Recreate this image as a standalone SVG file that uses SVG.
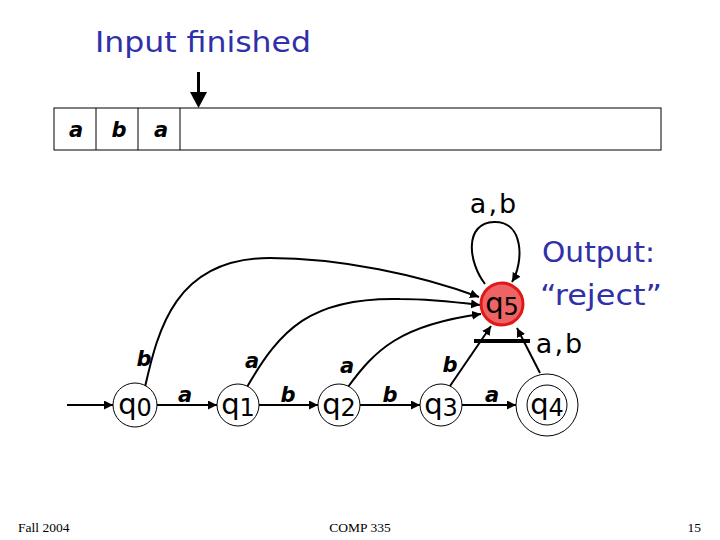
<svg xmlns="http://www.w3.org/2000/svg" width="720" height="540" viewBox="0 0 720 540">
<style>
.title{font-family:"DejaVu Sans",sans-serif;font-size:28px;fill:#3030a8}
.lbl{font-family:"DejaVu Sans",sans-serif;font-size:21px;font-style:italic;font-weight:600;fill:#000}
.tl{font-family:"DejaVu Sans",sans-serif;font-size:27px;fill:#000;letter-spacing:2px}
.q{font-family:"DejaVu Sans",sans-serif;font-size:29px;fill:#000}
.foot{font-family:"Liberation Serif",serif;font-size:13.5px;fill:#000}
.st{fill:#fff;stroke:#000;stroke-width:1}
.e{fill:none;stroke:#000;stroke-width:2}
</style>
<defs>
<marker id="ah" viewBox="0 0 10 10" refX="10" refY="5" markerWidth="9" markerHeight="9" markerUnits="userSpaceOnUse" orient="auto">
<path d="M0,0 L10,5 L0,10 z" fill="#000"/>
</marker>
</defs>
<rect width="720" height="540" fill="#fff"/>
<text class="title" x="95" y="52" textLength="216" lengthAdjust="spacingAndGlyphs">Input finished</text>
<g id="tape">
<rect x="54" y="108" width="607" height="42" fill="#fff" stroke="#000" stroke-width="1"/>
<line x1="96" y1="108" x2="96" y2="150" stroke="#000"/>
<line x1="138" y1="108" x2="138" y2="150" stroke="#000"/>
<line x1="180" y1="108" x2="180" y2="150" stroke="#000"/>
<text class="lbl" x="76" y="137" text-anchor="middle">a</text>
<text class="lbl" x="119" y="137" text-anchor="middle">b</text>
<text class="lbl" x="161" y="137" text-anchor="middle">a</text>
</g>
<g id="head">
<line x1="198.5" y1="72" x2="198.5" y2="94" stroke="#000" stroke-width="3"/>
<path d="M190,92 L207,92 L198.5,108 z" fill="#000"/>
</g>
<g id="connectors">
<line class="e" x1="67" y1="405" x2="113" y2="405" marker-end="url(#ah)"/>
<line class="e" x1="157" y1="405" x2="217" y2="405" marker-end="url(#ah)"/>
<line class="e" x1="259" y1="405" x2="318" y2="405" marker-end="url(#ah)"/>
<line class="e" x1="360" y1="405" x2="420" y2="405" marker-end="url(#ah)"/>
<line class="e" x1="462" y1="405" x2="516" y2="405" marker-end="url(#ah)"/>
<path class="e" d="M145,387 C158,330 175,258 270,258 C340,258 420,275 479,297" marker-end="url(#ah)"/>
<path class="e" d="M247,387 C280,330 310,297 400,299 C430,299 455,302 480,305" marker-end="url(#ah)"/>
<path class="e" d="M348,387 C375,350 400,325 481,314" marker-end="url(#ah)"/>
<line class="e" x1="450" y1="386" x2="491" y2="326" marker-end="url(#ah)"/>
<line class="e" x1="540" y1="373" x2="517" y2="328" marker-end="url(#ah)"/>
<path class="e" d="M485,284 C468,262 464,223 494,222 C524,221 524,262 512,282" marker-end="url(#ah)"/>
<line x1="474" y1="341" x2="530" y2="341" stroke="#000" stroke-width="4"/>
</g>
<g id="labels">
<text class="lbl" x="185" y="402" text-anchor="middle">a</text>
<text class="lbl" x="288" y="402" text-anchor="middle">b</text>
<text class="lbl" x="390" y="402" text-anchor="middle">b</text>
<text class="lbl" x="492" y="402" text-anchor="middle">a</text>
<text class="lbl" x="144" y="366" text-anchor="middle">b</text>
<text class="lbl" x="252" y="368" text-anchor="middle">a</text>
<text class="lbl" x="347" y="373" text-anchor="middle">a</text>
<text class="lbl" x="450" y="372" text-anchor="middle">b</text>
<text class="tl" x="494" y="213" text-anchor="middle">a,b</text>
<text class="tl" x="560" y="353" text-anchor="middle">a,b</text>
<text class="title" x="542" y="262" textLength="113" lengthAdjust="spacingAndGlyphs">Output:</text>
<text class="title" x="540" y="305" textLength="122" lengthAdjust="spacingAndGlyphs">“reject”</text>
</g>
<g id="q0"><circle class="st" cx="135" cy="405" r="22"/><text class="q" x="135" y="414" text-anchor="middle">q<tspan font-size="24" dy="2">0</tspan></text></g>
<g id="q1"><circle class="st" cx="238" cy="405" r="21"/><text class="q" x="238" y="414" text-anchor="middle">q<tspan font-size="24" dy="2">1</tspan></text></g>
<g id="q2"><circle class="st" cx="339" cy="405" r="21"/><text class="q" x="339" y="414" text-anchor="middle">q<tspan font-size="24" dy="2">2</tspan></text></g>
<g id="q3"><circle class="st" cx="441" cy="405" r="21"/><text class="q" x="441" y="414" text-anchor="middle">q<tspan font-size="24" dy="2">3</tspan></text></g>
<g id="q4"><circle class="st" cx="547" cy="405" r="31"/><circle class="st" cx="547" cy="405" r="20"/><text class="q" x="547" y="414" text-anchor="middle">q<tspan font-size="24" dy="2">4</tspan></text></g>
<g id="q5"><circle cx="502" cy="304" r="21" fill="#ee6464" stroke="#e01818" stroke-width="3"/><text class="q" x="502" y="313" text-anchor="middle">q<tspan font-size="24" dy="2">5</tspan></text></g>
<text class="foot" x="18" y="532">Fall 2004</text>
<text class="foot" x="360" y="532" text-anchor="middle">COMP 335</text>
<text class="foot" x="701" y="532" text-anchor="end">15</text>
</svg>
